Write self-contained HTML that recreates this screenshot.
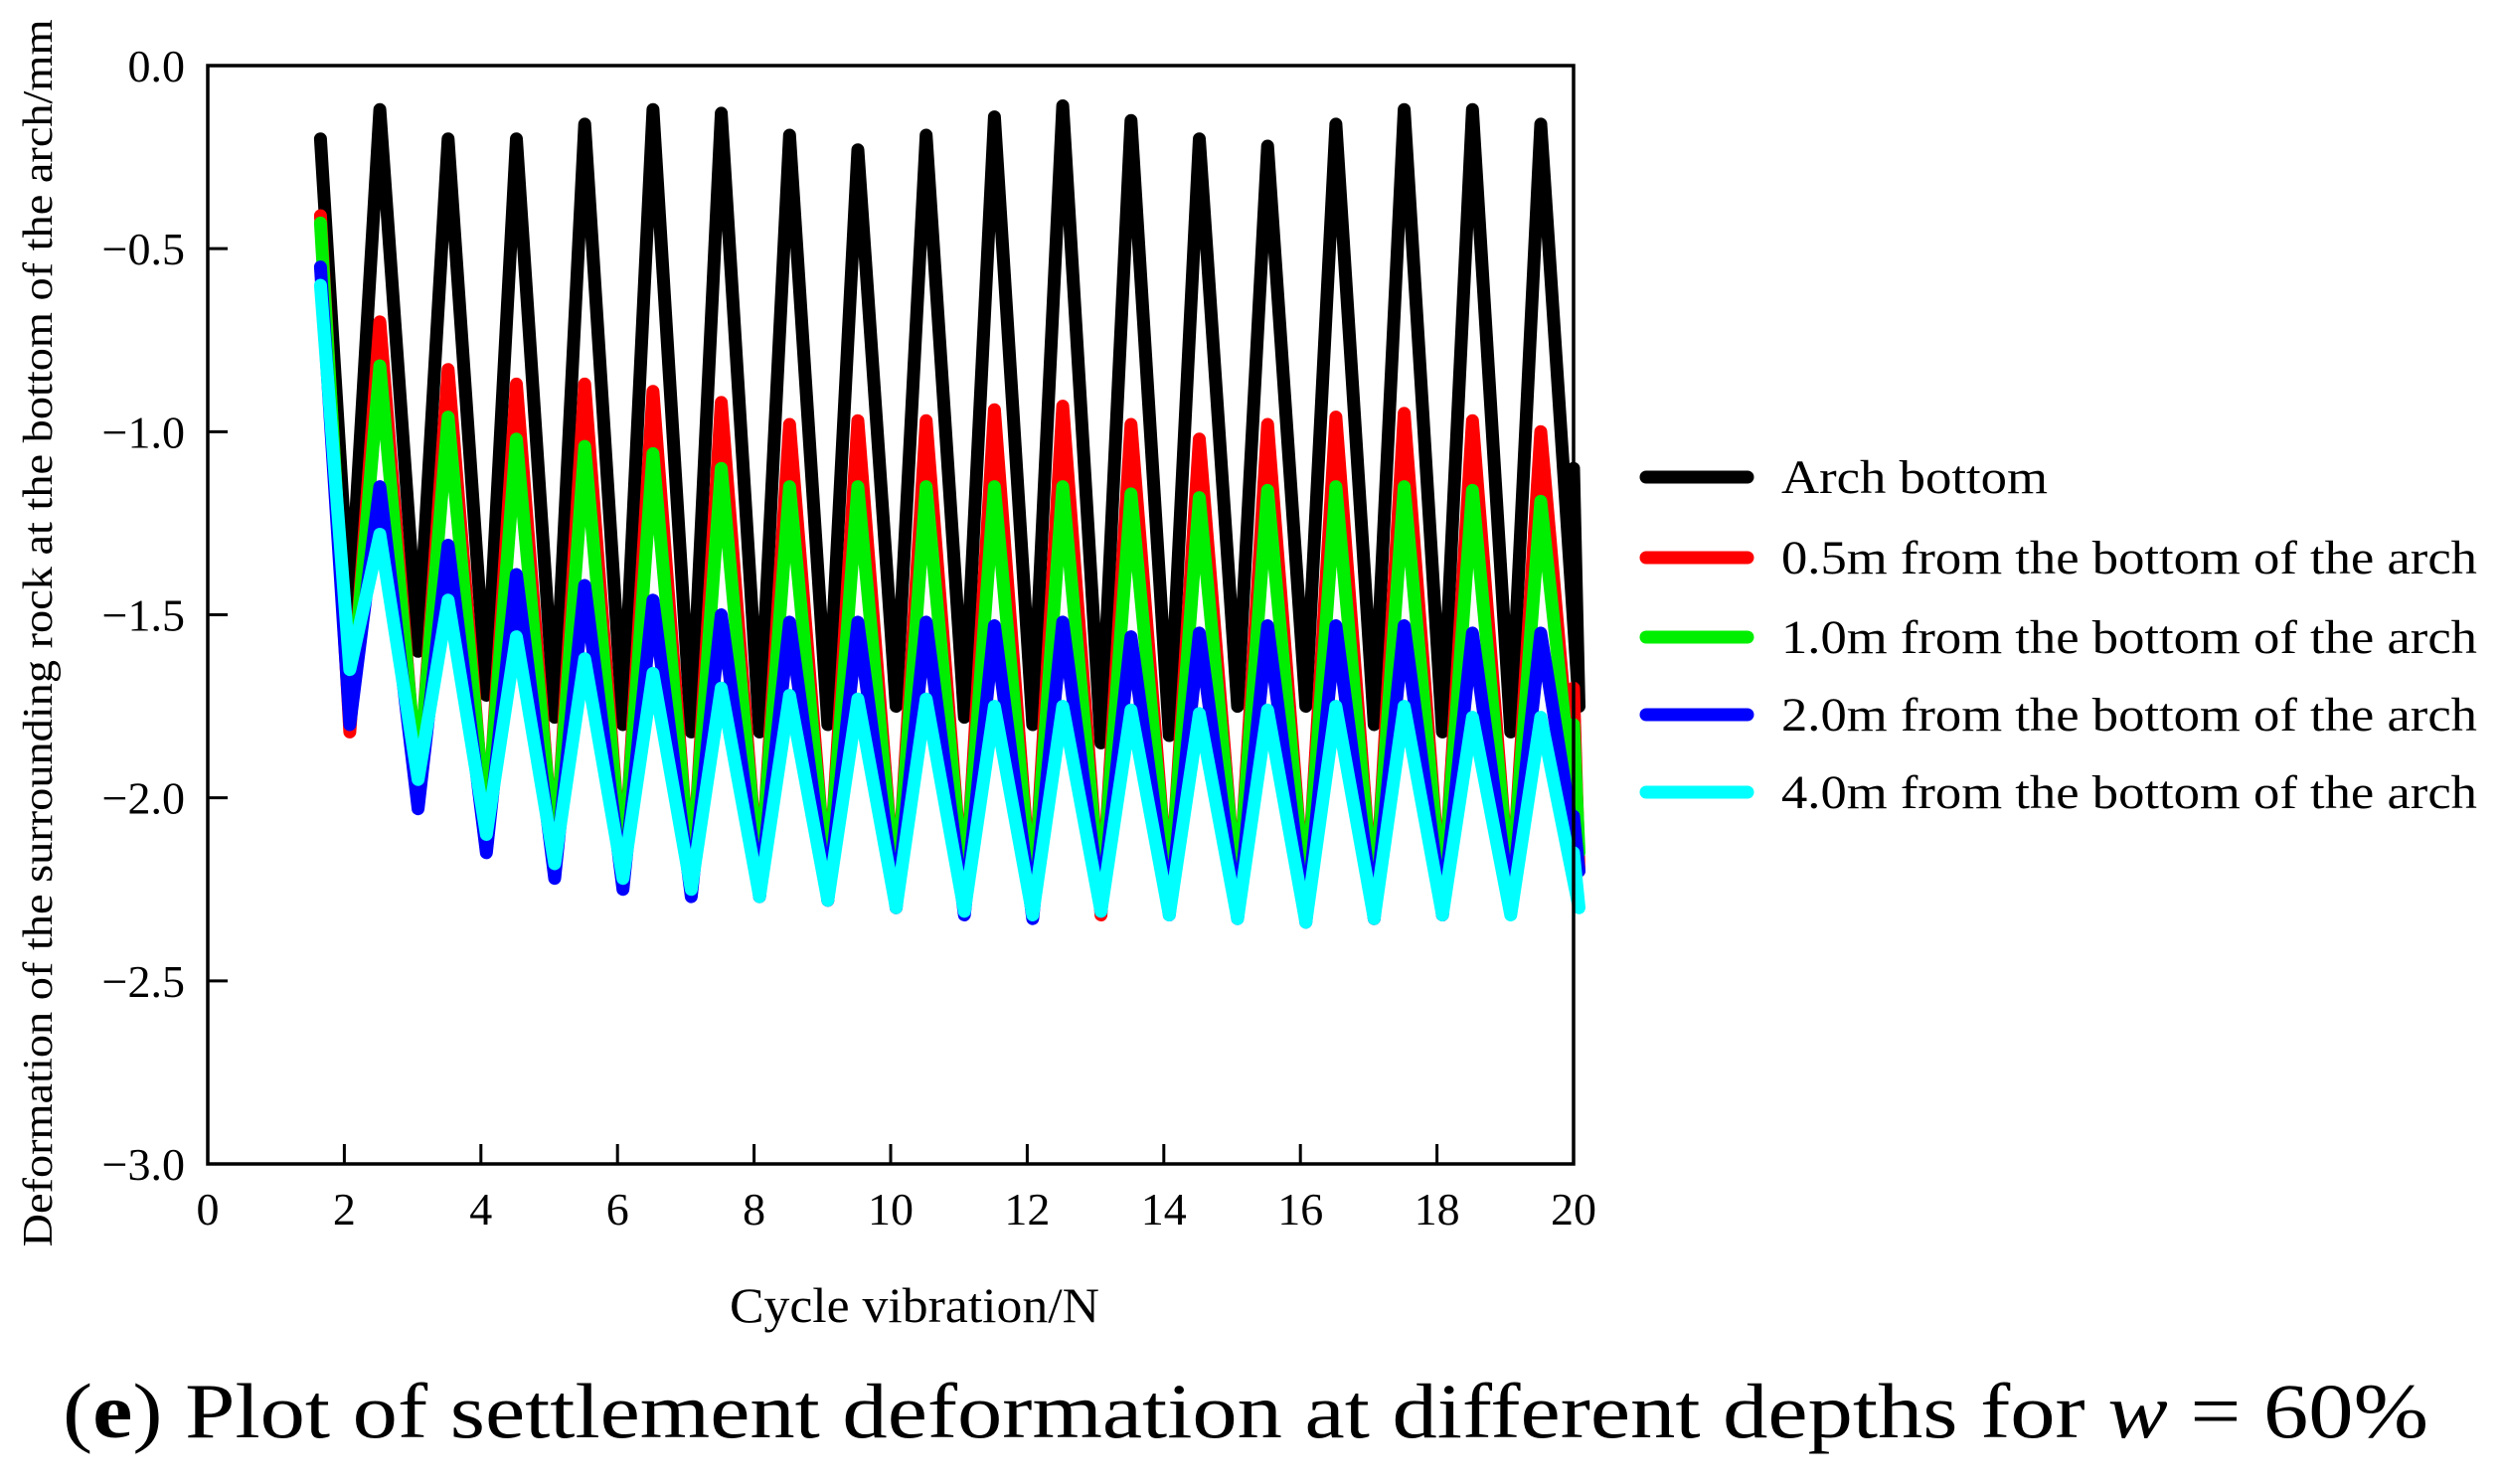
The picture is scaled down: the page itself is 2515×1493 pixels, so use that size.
<!DOCTYPE html>
<html><head><meta charset="utf-8"><style>
html,body{margin:0;padding:0;background:#fff;}
svg, svg text{font-family:"Liberation Serif","Times New Roman",serif;}
</style></head><body>
<svg id="chart" width="2515" height="1488" viewBox="0 0 2515 1488" xmlns="http://www.w3.org/2000/svg" font-family="Liberation Serif, serif">
<g id="series"></g>
<rect x="209" y="66" width="1374" height="1105" fill="none" stroke="#000" stroke-width="3.5"/>
<g id="axes"></g>
<text transform="translate(52,637) rotate(-90)" text-anchor="middle" font-size="42" textLength="1235" lengthAdjust="spacingAndGlyphs">Deformation of the surrounding rock at the bottom of the arch/mm</text>
<text x="920" y="1330" text-anchor="middle" font-size="50" textLength="372" lengthAdjust="spacingAndGlyphs">Cycle vibration/N</text>
<text x="1253" y="1446" text-anchor="middle" font-size="78" textLength="2380" lengthAdjust="spacingAndGlyphs">(<tspan font-weight="bold">e</tspan>) Plot of settlement deformation at different depths for <tspan font-style="italic">w</tspan> = 60%</text>
<g id="legend"></g>
</svg>
<script>
const seriesNames = ["Arch bottom","0.5m from the bottom of the arch","1.0m from the bottom of the arch","2.0m from the bottom of the arch","4.0m from the bottom of the arch"];
const seriesColors = ["#000000","#ff0000","#00ee00","#0000ff","#00ffff"];
const startValues = [-0.2,-0.41,-0.43,-0.55,-0.6];
const blackTroughs = [-1.5,-1.6,-1.72,-1.78,-1.8,-1.82,-1.82,-1.8,-1.75,-1.78,-1.8,-1.85,-1.83,-1.75,-1.75,-1.8,-1.82,-1.82,-1.75];
const blackPeaks = [-0.12,-0.2,-0.2,-0.16,-0.12,-0.13,-0.19,-0.23,-0.19,-0.14,-0.11,-0.15,-0.2,-0.22,-0.16,-0.12,-0.12,-0.16];
const redTroughs = [-1.82,-2.0,-2.12,-2.2,-2.24,-2.26,-2.27,-2.28,-2.3,-2.3,-2.32,-2.32,-2.3,-2.31,-2.32,-2.33,-2.32,-2.3,-2.2];
const redPeaks = [-0.7,-0.83,-0.87,-0.87,-0.89,-0.92,-0.98,-0.97,-0.97,-0.94,-0.93,-0.98,-1.02,-0.98,-0.96,-0.95,-0.97,-1.0];
const greenTroughs = [-1.79,-1.97,-2.09,-2.17,-2.21,-2.23,-2.24,-2.25,-2.27,-2.27,-2.29,-2.29,-2.27,-2.28,-2.29,-2.3,-2.29,-2.27,-2.15];
const greenPeaks = [-0.82,-0.96,-1.02,-1.04,-1.06,-1.1,-1.15,-1.15,-1.15,-1.15,-1.15,-1.17,-1.18,-1.16,-1.15,-1.15,-1.16,-1.19];
const blueTroughs = [-1.8,-2.03,-2.15,-2.22,-2.25,-2.27,-2.27,-2.28,-2.3,-2.32,-2.33,-2.31,-2.32,-2.33,-2.34,-2.33,-2.32,-2.3,-2.2];
const bluePeaks = [-1.15,-1.31,-1.39,-1.42,-1.46,-1.5,-1.52,-1.52,-1.52,-1.53,-1.52,-1.56,-1.55,-1.53,-1.53,-1.53,-1.55,-1.55];
const cyanTroughs = [-1.65,-1.95,-2.1,-2.18,-2.22,-2.25,-2.27,-2.28,-2.3,-2.31,-2.32,-2.31,-2.32,-2.33,-2.34,-2.33,-2.32,-2.32,-2.3];
const cyanPeaks = [-1.28,-1.46,-1.56,-1.62,-1.66,-1.7,-1.72,-1.73,-1.73,-1.75,-1.75,-1.76,-1.77,-1.76,-1.75,-1.75,-1.78,-1.78];
const endValues = [-1.1,-1.7,-1.8,-2.05,-2.15];
const xTicks = [0,2,4,6,8,10,12,14,16,18,20];
const yTicks = [0,-0.5,-1,-1.5,-2,-2.5,-3];
const yTickLabels = ["0.0","\u22120.5","\u22121.0","\u22121.5","\u22122.0","\u22122.5","\u22123.0"];

const NS="http://www.w3.org/2000/svg";
const X0=209,X1=1583,Y0=66,Y1=1171;
function xs(v){return X0+(v-0)/(20-0)*(X1-X0);}
function ys(v){return Y0+(0-v)/(0+3)*(Y1-Y0);}
const troughs=[blackTroughs,redTroughs,greenTroughs,blueTroughs,cyanTroughs];
const peaks=[blackPeaks,redPeaks,greenPeaks,bluePeaks,cyanPeaks];
const sg=document.getElementById('series');
for(let s=0;s<5;s++){
  const pts=[[1.65,startValues[s]]];
  for(let i=0;i<troughs[s].length;i++){
    pts.push([2.08+i,troughs[s][i]]);
    if(i<peaks[s].length) pts.push([2.52+i,peaks[s][i]]);
  }
  pts.push([20,endValues[s]]);
  const p=document.createElementNS(NS,'polyline');
  p.setAttribute('points',pts.map(q=>xs(q[0]).toFixed(1)+','+ys(q[1]).toFixed(1)).join(' '));
  p.setAttribute('fill','none');
  p.setAttribute('stroke',seriesColors[s]);
  p.setAttribute('stroke-width','13');
  p.setAttribute('stroke-linejoin','round');
  p.setAttribute('stroke-linecap','round');
  
  
  sg.appendChild(p);
}
const ax=document.getElementById('axes');
xTicks.forEach(t=>{
  const l=document.createElementNS(NS,'line');
  l.setAttribute('x1',xs(t));l.setAttribute('x2',xs(t));l.setAttribute('y1',Y1);l.setAttribute('y2',Y1-20);
  l.setAttribute('stroke','#000');l.setAttribute('stroke-width','3');
  
  
  ax.appendChild(l);
  const tx=document.createElementNS(NS,'text');
  tx.setAttribute('x',xs(t));tx.setAttribute('y',1232);tx.setAttribute('text-anchor','middle');tx.setAttribute('font-size','46');
  tx.textContent=String(t);
  
  
  ax.appendChild(tx);
});
yTicks.forEach((t,i)=>{
  const l=document.createElementNS(NS,'line');
  l.setAttribute('x1',X0);l.setAttribute('x2',X0+20);l.setAttribute('y1',ys(t));l.setAttribute('y2',ys(t));
  l.setAttribute('stroke','#000');l.setAttribute('stroke-width','3');
  
  
  ax.appendChild(l);
  const tx=document.createElementNS(NS,'text');
  tx.setAttribute('x',186);tx.setAttribute('y',ys(t)+16);tx.setAttribute('text-anchor','end');tx.setAttribute('font-size','46');
  tx.textContent=yTickLabels[i];
  
  
  ax.appendChild(tx);
});
const lg=document.getElementById('legend');
const legY=[480,561,641,719,797];
for(let s=0;s<5;s++){
  const l=document.createElementNS(NS,'line');
  l.setAttribute('x1',1656);l.setAttribute('x2',1758);l.setAttribute('y1',legY[s]);l.setAttribute('y2',legY[s]);
  l.setAttribute('stroke',seriesColors[s]);l.setAttribute('stroke-width','13');l.setAttribute('stroke-linecap','round');
  
  
  lg.appendChild(l);
  const tx=document.createElementNS(NS,'text');
  tx.setAttribute('x',1792);tx.setAttribute('y',legY[s]+16);tx.setAttribute('font-size','48');
  if(s>0){tx.setAttribute('textLength','700');tx.setAttribute('lengthAdjust','spacingAndGlyphs');}
  else{tx.setAttribute('textLength','268');tx.setAttribute('lengthAdjust','spacingAndGlyphs');}
  tx.textContent=seriesNames[s];
  
  
  lg.appendChild(tx);
}
</script>
</body></html>
